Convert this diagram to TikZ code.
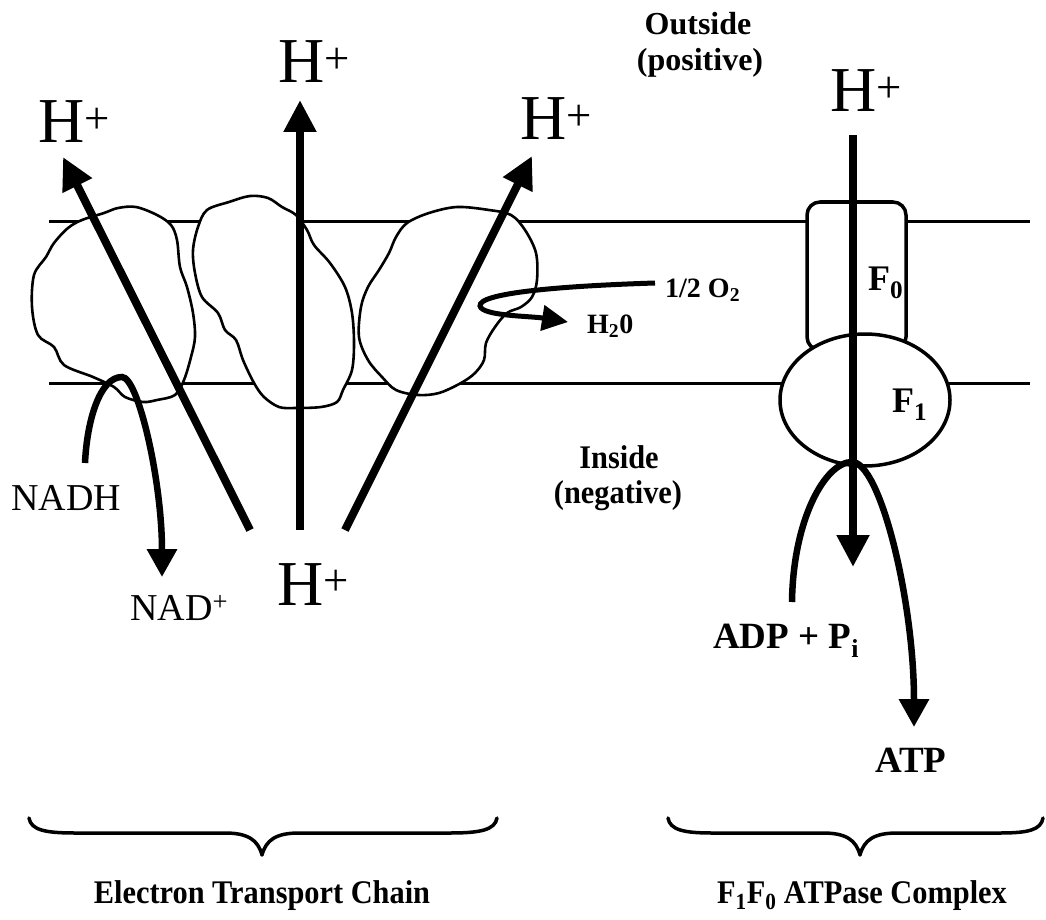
\documentclass[tikz,border=0pt]{standalone}
\usepackage{fontspec}
\setmainfont{Liberation Serif}
\usetikzlibrary{arrows.meta,shapes.geometric}
\begin{document}
\begin{tikzpicture}[x=1pt,y=-1pt,
  memb/.style={line width=3pt},
  blob/.style={line width=2.6pt,fill=white,line join=round},
  bigarrow/.style={line width=8pt,-{Triangle[length=32pt,width=31pt]}},
  curvearrow/.style={line width=6.5pt,-{Triangle[length=28pt,width=29pt]}},
  smallarrow/.style={line width=5pt,-{Triangle[length=26pt,width=25pt]}},
  bracepath/.style={line width=3.5pt,line cap=round,line join=round},
  ion/.style={font=\fontsize{64}{64}\selectfont,inner sep=0pt,anchor=base west},
  reg/.style={font=\fontsize{38}{38}\selectfont,inner sep=0pt,anchor=base west},
  lbl/.style={font=\bfseries\fontsize{32}{36}\selectfont,inner sep=0pt,anchor=base},
  lblin/.style={font=\bfseries\fontsize{33}{36}\selectfont,inner sep=0pt,anchor=base,xscale=0.92},
  chem/.style={font=\bfseries\fontsize{28}{28}\selectfont,inner sep=0pt,anchor=base west},
  big/.style={font=\bfseries\fontsize{37}{37}\selectfont,inner sep=0pt,anchor=base west},
  bottomlbl/.style={font=\bfseries\fontsize{33}{33}\selectfont,inner sep=0pt,anchor=base,xscale=0.92}]
\useasboundingbox (0,0) rectangle (1046,920);

% membrane
\coordinate (mTL) at (49,221); \coordinate (mTR) at (1030,221);
\coordinate (mBL) at (49,383); \coordinate (mBR) at (1030,383);
\draw[memb] (mTL) -- (mTR);
\draw[memb] (mBL) -- (mBR);

% ETC complexes
\draw[blob] plot[smooth cycle,tension=0.55] coordinates {
 (104,213) (118,208) (136,207) (157,215) (171,225) (177,240) (180,267) (187,287)
 (193,313) (195,337) (191,357) (184,380) (175,395) (157,400) (143,402) (125,397)
 (114,387) (93,377) (64,365) (54,347) (38,335) (32,307) (34,275) (46,257) (54,243)
 (68,228) (82,220)};
\draw[blob] plot[smooth cycle,tension=0.55] coordinates {
 (207,210) (229,202) (250,196) (268,198) (282,207) (296,215) (307,230) (314,245)
 (330,263) (345,287) (352,313) (354,343) (352,370) (343,390) (337,402) (321,407)
 (296,408) (279,407) (264,397) (254,383) (243,360) (236,340) (225,330) (218,313)
 (202,297) (195,273) (193,250) (198,227)};
\draw[blob] plot[smooth cycle,tension=0.55] coordinates {
 (407,223) (429,213) (457,207) (489,210) (511,215) (525,230) (536,253) (537,280)
 (532,297) (521,307) (507,313) (495,327) (486,343) (484,360) (475,373) (461,383)
 (439,393) (418,395) (396,390) (382,377) (368,360) (359,337) (361,307) (368,287)
 (379,270) (389,253) (396,237)};

% ATPase
\draw[line width=3.5pt,fill=white,rounded corners=13pt] (807,202) rectangle (906,350);
\node[draw,line width=3.5pt,fill=white,ellipse,minimum width=170pt,minimum height=132pt,inner sep=0pt] (F1) at (865,400) {};

% ETC proton arrows
\coordinate (aLs) at (250,530); \coordinate (aLt) at (63,157);
\coordinate (aMs) at (300,530); \coordinate (aMt) at (300,100);
\coordinate (aRs) at (345,530); \coordinate (aRt) at (532,156);
\draw[bigarrow] (aLs) -- (aLt);
\draw[bigarrow] (aMs) -- (aMt);
\draw[bigarrow] (aRs) -- (aRt);

% NADH
\coordinate (nS) at (85,463); \coordinate (nP) at (122,377); \coordinate (nT) at (162,577);
\draw[curvearrow] (nS) .. controls (87,420) and (100,377) .. (nP)
  .. controls (138,377) and (162,480) .. (nT);

% oxygen
\coordinate (oS) at (655,283); \coordinate (oL) at (480,306); \coordinate (oT) at (568,322);
\draw[smallarrow] (oS) .. controls (560,286) and (478,293) .. (oL)
  .. controls (482,316) and (530,316) .. (oT);

% ATPase arrows
\coordinate (fS) at (853,135); \coordinate (fT) at (853,567);
\draw[bigarrow] (fS) -- (fT);
\coordinate (pS) at (792,602); \coordinate (pP) at (852,462); \coordinate (pT) at (914,727);
\draw[curvearrow] (pS) .. controls (793,520) and (825,462) .. (pP)
  .. controls (880,462) and (914,600) .. (pT);

% braces
\coordinate (b1L) at (29,818); \coordinate (b1T) at (262,855); \coordinate (b1R) at (497,818);
\draw[bracepath] (b1L) .. controls (31,830) and (45,833) .. (75,833) -- (225,833)
  .. controls (248,833) and (258,840) .. (b1T)
  .. controls (266,840) and (276,833) .. (299,833) -- (450,833)
  .. controls (480,833) and (495,830) .. (b1R);
\coordinate (b2L) at (668,818); \coordinate (b2T) at (860,855); \coordinate (b2R) at (1043,818);
\draw[bracepath] (b2L) .. controls (670,830) and (684,833) .. (712,833) -- (823,833)
  .. controls (846,833) and (856,840) .. (b2T)
  .. controls (864,840) and (874,833) .. (897,833) -- (1000,833)
  .. controls (1028,833) and (1041,830) .. (b2R);

% texts
\node[ion] (h1) at (38,143) {H\textsuperscript{+}};
\node[ion] (h2) at (278,83) {H\textsuperscript{+}};
\node[ion] (h3) at (520,140) {H\textsuperscript{+}};
\node[ion] (h4) at (830,112) {H\textsuperscript{+}};
\node[ion] (h5) at (277,605) {H\textsuperscript{+}};
\node[reg] (nadh) at (11,510) {NADH};
\node[reg] (nad) at (130,620) {NAD\textsuperscript{+}};
\node[lbl] (out1) at (698,35) {Outside};
\node[lbl] (out2) at (700,71) {(positive)};
\node[lblin] (in1) at (619,468) {Inside};
\node[lblin] (in2) at (618,503) {(negative)};
\node[chem] (o2) at (665,297) {1/2 O\textsubscript{2}};
\node[chem] (h2o) at (587,333) {H\textsubscript{2}0};
\node[font=\bfseries\fontsize{36}{36}\selectfont,inner sep=0pt,anchor=base west] (f0) at (868,290) {F\textsubscript{0}};
\node[font=\bfseries\fontsize{36}{36}\selectfont,inner sep=0pt,anchor=base west] (f1) at (892,412) {F\textsubscript{1}};
\node[big] (adp) at (713,648) {ADP + P\textsubscript{i}};
\node[big] (atp) at (875,772) {ATP};
\node[bottomlbl] (etc) at (262,903) {Electron Transport Chain};
\node[bottomlbl] (atpase) at (862,903) {F\textsubscript{1}F\textsubscript{0} ATPase Complex};
\end{tikzpicture}
\end{document}
